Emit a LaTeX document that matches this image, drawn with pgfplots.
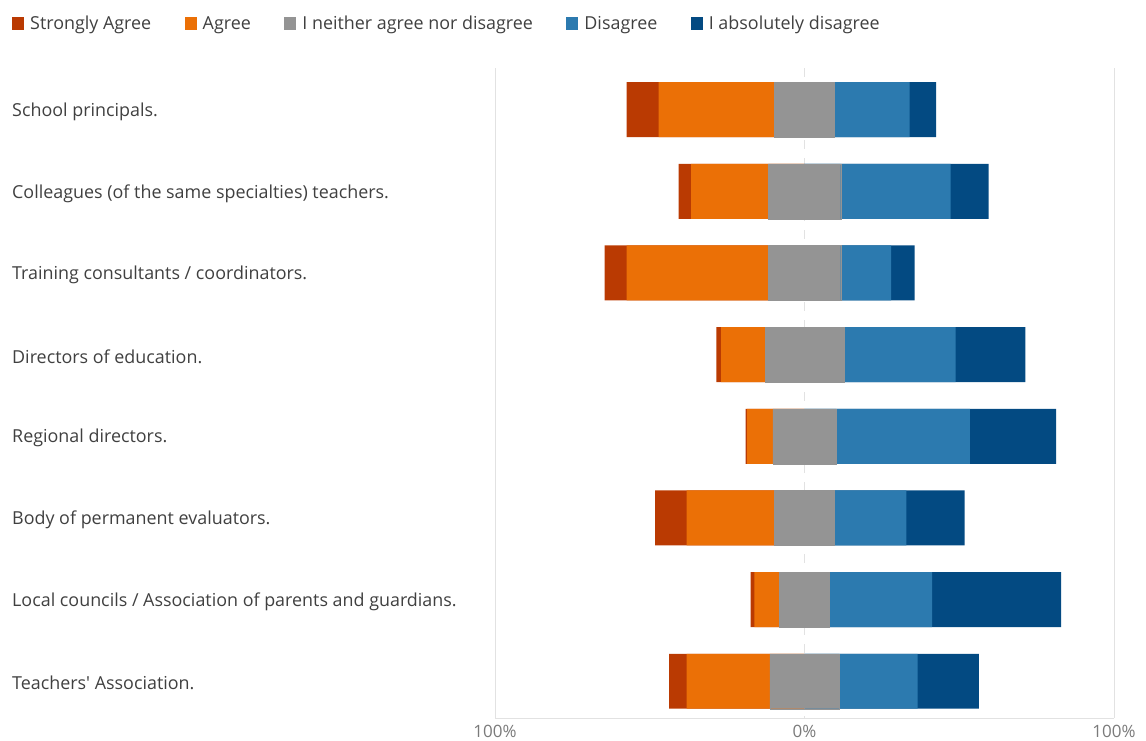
\documentclass[border=0pt]{standalone}
\usepackage{pgfplots}
\usepackage{pgfplotstable}
\pgfplotsset{compat=1.18}
\usepackage{fontspec}
\setmainfont{Open Sans}[Ligatures=TeXOff]
\definecolor{cSA}{HTML}{BA3A02}
\definecolor{cA}{HTML}{EB7006}
\definecolor{cN}{HTML}{949494}
\definecolor{cD}{HTML}{2C7AAF}
\definecolor{cAD}{HTML}{034A82}
\definecolor{txt}{HTML}{404040}
\definecolor{tick}{HTML}{7A7A7A}
\definecolor{grd}{HTML}{E2E2E2}
\pgfplotstableread{
y SA A N D AD
0 10.3 37.5 19.3 24.3 8.6
1 4.1 24.9 23.4 35.5 12.3
2 7.1 45.8 23.4 16.3 7.6
3 1.6 14.2 25.4 36.1 22.6
4 0.5 8.3 20.4 43.2 27.9
5 10.2 28.4 19.3 23.3 18.8
6 1.2 8.1 16.2 33.1 41.7
7 5.7 26.9 22.3 25.4 19.8
}\data
\begin{document}
\begin{tikzpicture}
\useasboundingbox (-495pt,-22pt) rectangle (651pt,718pt);
\begin{axis}[
  scale only axis, width=619pt, height=650pt,
  xbar, bar shift=0pt, bar width=0.673,
  xmin=-100, xmax=100, ymin=-0.51, ymax=7.45, y dir=reverse,
  separate axis lines,
  axis x line*=bottom, axis y line*=left,
  x axis line style={draw=grd,-},
  y axis line style={draw=none},
  xtick={-100,100}, xticklabels={100\%,100\%},
  extra x ticks={0}, extra x tick labels={0\%},
  extra x tick style={grid style={draw=grd, dash pattern=on 9pt off 9pt}},
  xmajorgrids, grid style={draw=grd, line width=0.8pt},
  major tick length=0pt,
  ytick={0,...,7},
  yticklabels={School principals., Colleagues (of the same specialties) teachers., Training consultants / coordinators., Directors of education., Regional directors., Body of permanent evaluators., Local councils / Association of parents and guardians., Teachers' Association.},
  yticklabel style={anchor=west, xshift=-483pt, yshift=-2pt, inner sep=0pt, font=\fontsize{17.9}{20}\selectfont, text=txt},
  xticklabel style={font=\fontsize{17}{20}\selectfont, text=tick, inner sep=0pt, yshift=-7pt},
  /pgf/number format/assume math mode=true,
  legend columns=5,
  legend style={at={(0,1)}, anchor=north west, xshift=-483pt, yshift=52pt, draw=none, fill=none, inner sep=0pt,
    font=\fontsize{17.9}{20}\selectfont, text=txt,
    nodes={inner sep=0pt},
    /tikz/every odd column/.append style={column sep=6pt},
    /tikz/every even column/.append style={column sep=33.5pt}},
  legend image code/.code={\path[#1,draw=none] (0pt,-6.5pt) rectangle (12pt,6.5pt);},
]
\addlegendimage{fill=cSA}\addlegendentry{Strongly Agree}
\addlegendimage{fill=cA}\addlegendentry{Agree}
\addlegendimage{fill=cN}\addlegendentry{I neither agree nor disagree}
\addlegendimage{fill=cD}\addlegendentry{Disagree}
\addlegendimage{fill=cAD}\addlegendentry{I absolutely disagree}
\addplot[fill=cSA, draw=none, forget plot] table[x expr={-\thisrow{SA}-\thisrow{A}-0.5*\thisrow{N}}, y=y] {\data};
\addplot[fill=cA, draw=none, forget plot] table[x expr={-\thisrow{A}-0.5*\thisrow{N}}, y=y] {\data};
\addplot[fill=cAD, draw=none, forget plot] table[x expr={\thisrow{AD}+\thisrow{D}+0.5*\thisrow{N}}, y=y] {\data};
\addplot[fill=cD, draw=none, forget plot] table[x expr={\thisrow{D}+0.5*\thisrow{N}}, y=y] {\data};
\addplot[fill=cN, draw=cN, line width=0.4pt, forget plot] table[x expr={0.5*\thisrow{N}}, y=y] {\data};
\addplot[fill=cN, draw=cN, line width=0.4pt, forget plot] table[x expr={-0.5*\thisrow{N}}, y=y] {\data};
\end{axis}
\end{tikzpicture}
\end{document}
